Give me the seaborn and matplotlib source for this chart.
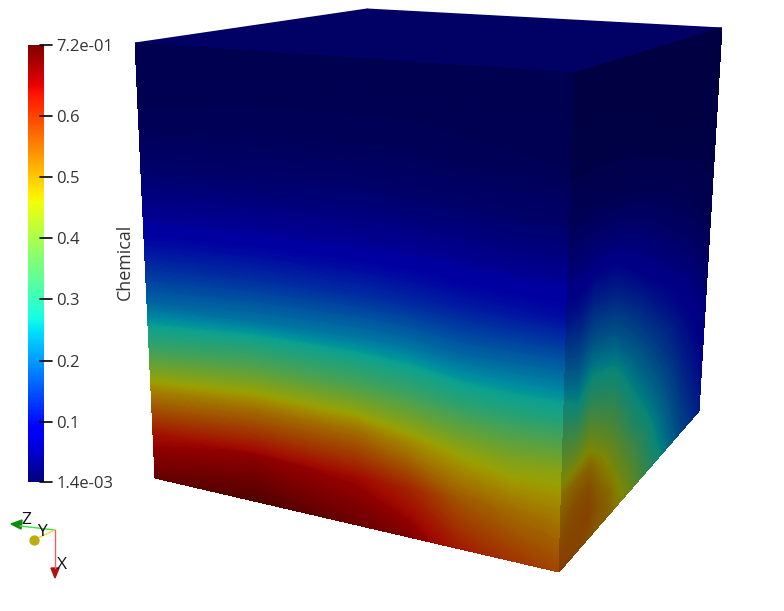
import numpy as np
import matplotlib
matplotlib.use("Agg")
import matplotlib.pyplot as plt
from matplotlib.colors import ListedColormap
import seaborn as sns

# scalar range and colour bar ticks
chem_min = 0.0014
chem_max = 0.716
tick_values = [0.0014, 0.1, 0.2, 0.3, 0.4, 0.5, 0.6, 0.716]
tick_labels = ["1.4e-03", "0.1", "0.2", "0.3", "0.4", "0.5", "0.6", "7.2e-01"]

top_values = [[0.0014, 0.0014], [0.0014, 0.0014]]

front_values = [
    [0.0014, 0.0014, 0.0014, 0.0014, 0.0014, 0.0014, 0.0014],
    [0.010, 0.012, 0.012, 0.012, 0.010, 0.009, 0.008],
    [0.030, 0.032, 0.035, 0.032, 0.030, 0.027, 0.025],
    [0.065, 0.070, 0.070, 0.070, 0.065, 0.060, 0.060],
    [0.128, 0.135, 0.135, 0.130, 0.120, 0.115, 0.110],
    [0.205, 0.220, 0.225, 0.220, 0.205, 0.205, 0.205],
    [0.325, 0.360, 0.350, 0.335, 0.310, 0.300, 0.300],
    [0.495, 0.525, 0.520, 0.485, 0.450, 0.430, 0.440],
    [0.630, 0.655, 0.640, 0.610, 0.550, 0.525, 0.510],
    [0.695, 0.715, 0.690, 0.670, 0.620, 0.590, 0.570],
]

right_values = [
    [0.0014, 0.0014, 0.0014, 0.0014, 0.0014, 0.0014, 0.0014, 0.0014],
    [0.008, 0.008, 0.008, 0.008, 0.006, 0.005, 0.004, 0.003],
    [0.025, 0.025, 0.025, 0.022, 0.018, 0.014, 0.010, 0.006],
    [0.060, 0.060, 0.065, 0.060, 0.050, 0.035, 0.020, 0.012],
    [0.114, 0.114, 0.133, 0.124, 0.090, 0.065, 0.040, 0.020],
    [0.204, 0.190, 0.213, 0.198, 0.155, 0.110, 0.070, 0.035],
    [0.310, 0.275, 0.310, 0.285, 0.220, 0.165, 0.100, 0.060],
    [0.430, 0.420, 0.440, 0.370, 0.280, 0.215, 0.130, 0.080],
    [0.490, 0.505, 0.510, 0.420, 0.310, 0.240, 0.145, 0.090],
    [0.520, 0.540, 0.545, 0.460, 0.360, 0.265, 0.160, 0.100],
    [0.545, 0.550, 0.555, 0.500, 0.395, 0.285, 0.175, 0.115],
    [0.570, 0.555, 0.540, 0.510, 0.430, 0.310, 0.190, 0.130],
]

front_u = [0, 0.25, 0.5, 0.625, 0.75, 0.875, 1]
front_t = [0, 0.2, 0.3, 0.4, 0.5, 0.6, 0.7, 0.8, 0.9, 1]
right_u = [0, 0.1, 0.2, 0.35, 0.5, 0.65, 0.85, 1]
right_t = [0, 0.2, 0.3, 0.4, 0.5, 0.6, 0.7, 0.8, 0.85, 0.9, 0.95, 1]

# cube corners in picture pixels: top-left, top-right, bottom-right, bottom-left
front_quad = [(135, 43), (574, 73), (559, 572), (155, 478)]
right_quad = [(574, 73), (722, 28), (699, 411), (559, 572)]
top_quad = [(135, 43), (367, 9), (722, 28), (574, 73)]


def face_grid(quad, us, ts):
    q = np.array(quad, dtype=float)
    u, t = np.meshgrid(us, ts)
    top = q[0][:, None, None] * (1 - u) + q[1][:, None, None] * u
    bot = q[3][:, None, None] * (1 - u) + q[2][:, None, None] * u
    return top * (1 - t) + bot * t


def lit_cmap(factor):
    # same rainbow, darkened by how much light the face gets
    cols = matplotlib.colormaps["jet"](np.arange(256))[:, :3] * factor
    return ListedColormap(cols)


def draw_face(ax, quad, us, ts, values, factor):
    X, Y = face_grid(quad, us, ts)
    ax.contourf(X, Y, np.array(values), levels=np.linspace(chem_min, chem_max, 220),
                cmap=lit_cmap(factor), vmin=chem_min, vmax=chem_max,
                extend="both", antialiased=False)


sns.set_theme(style="white")
plt.rcParams["font.family"] = ["Open Sans", "DejaVu Sans"]

fig = plt.figure(figsize=(7.84, 6.11), dpi=100)
ax = fig.add_axes([0, 0, 1, 1])
ax.set_xlim(0, 784)
ax.set_ylim(611, 0)
ax.axis("off")

X, Y = face_grid(top_quad, [0, 1], [0, 1])
ax.pcolormesh(X, Y, np.array(top_values), shading="gouraud",
              cmap=lit_cmap(0.79), vmin=chem_min, vmax=chem_max)
draw_face(ax, front_quad, front_u, front_t, front_values, 0.63)
draw_face(ax, right_quad, right_u, right_t, right_values, 0.52)

# colour bar comes from a heatmap on a hidden axes
ghost = fig.add_axes([0, 0, 0.01, 0.01])
cax = fig.add_axes([28 / 784, 1 - 482 / 611, 16 / 784, 437 / 611])
sns.heatmap(np.array(front_values), ax=ghost, cbar_ax=cax, cmap="jet",
            vmin=chem_min, vmax=chem_max)
ghost.set_visible(False)
cax.set_yticks(tick_values)
cax.set_yticklabels(tick_labels, fontsize=12, color="#333333")
cax.tick_params(axis="y", length=0, pad=9)
for v in tick_values:
    cax.plot([0.75, 1.5], [v, v], color="black", lw=1.2, clip_on=False,
             transform=cax.get_yaxis_transform(), zorder=5)

ax.text(125, 262, "Chemical", rotation=90, ha="center", va="center",
        fontsize=12.9, color="#333333")

# orientation triad
origin = (55, 530)
ax.plot([origin[0], 20], [origin[1], 526], color="#40e040", lw=1)
ax.plot([origin[0], 38], [origin[1], 538], color="#e8e040", lw=1)
ax.plot([origin[0], 55], [origin[1], 568], color="#f06060", lw=1)
ax.fill([11, 22, 21], [524, 520, 529], color="#0f8a0f")
ax.scatter([34], [539.5], s=55, color="#b8ae10", linewidths=0, zorder=3)
ax.fill([51, 59, 55], [568, 568, 578], color="#b01010")
ax.text(26, 520, "Z", ha="center", va="center", fontsize=12.5, color="#111111")
ax.text(42, 532, "Y", ha="center", va="center", fontsize=12.5, color="#111111")
ax.text(62, 565, "X", ha="center", va="center", fontsize=12.5, color="#111111")

fig.savefig("out.png", dpi=100)
